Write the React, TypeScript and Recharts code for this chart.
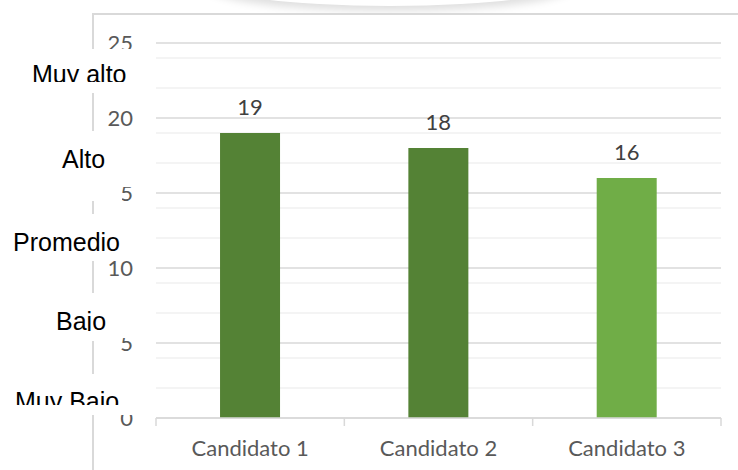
import React from 'react';
import { BarChart, Bar, XAxis, YAxis, CartesianGrid, Cell, LabelList } from 'recharts';

const candidates = ['Candidato 1', 'Candidato 2', 'Candidato 3'];
const scores = [19, 18, 16];
const yTicks = [0, 5, 10, 15, 20, 25];
const minorTicks = [1, 2, 3, 4, 6, 7, 8, 9, 11, 12, 13, 14, 16, 17, 18, 19, 21, 22, 23, 24];
const levels = ['Muy alto', 'Alto', 'Promedio', 'Bajo', 'Muy Bajo'];

const BAR_COLORS = ['#548235', '#548235', '#70AD47'];
const FONT = 'Lato, "Open Sans", sans-serif';

const data = candidates.map((name, i) => ({ name, value: scores[i] }));

// where each level label sits on the left, with the white box it was pasted in
const LEVEL_BOXES = [
  { tx: 32, ty: 83, clip: 82, boxes: [[0, 49, 150, 44]] },
  { tx: 62, ty: 168, clip: 200, boxes: [[0, 131, 150, 56], [0, 187, 122, 14]] },
  { tx: 13, ty: 251, clip: 261, boxes: [[0, 214, 150, 47]] },
  { tx: 56, ty: 330, clip: 331, boxes: [[0, 293, 150, 45], [0, 338, 122, 3]] },
  { tx: 15, ty: 410, clip: 405, boxes: [[0, 374, 150, 41]] },
];

const CategoryTick = (props: any) => {
  const { x, y, payload, index, visibleTicksCount } = props;
  const half = payload && payload.offset ? payload.offset : 94;
  const last = index === (visibleTicksCount ?? candidates.length) - 1;
  return (
    <g>
      <line x1={x - half} x2={x - half} y1={y} y2={y + 8} stroke="#d9d9d9" strokeWidth={1.5} />
      {last && <line x1={x + half} x2={x + half} y1={y} y2={y + 8} stroke="#d9d9d9" strokeWidth={1.5} />}
      <text x={x} y={y + 38} textAnchor="middle" fill="#595959" fontSize={22} fontFamily={FONT}>
        {payload.value}
      </text>
    </g>
  );
};

export default function App() {
  return (
    <div style={{ position: 'absolute', left: 0, top: 0, width: 738, height: 470, background: '#fff', overflow: 'hidden' }}>
      {/* faint shadow of something above the chart */}
      <div
        style={{
          position: 'absolute', left: 205, top: -44, width: 370, height: 50,
          borderRadius: '50%', background: '#fff', boxShadow: '0 5px 9px rgba(0,0,0,0.13)',
        }}
      />
      <div
        style={{
          position: 'absolute', left: 92, top: 13, width: 660, height: 470,
          borderTop: '2px solid #d9d9d9', borderLeft: '2px solid #d9d9d9', background: '#fff',
        }}
      />
      <div style={{ position: 'absolute', left: 0, top: 0 }}>
        <BarChart
          width={738}
          height={470}
          data={data}
          margin={{ top: 43, right: 17, bottom: 0, left: 0 }}
          barCategoryGap="34%"
        >
          <CartesianGrid vertical={false} horizontalValues={minorTicks} stroke="#f0f0f0" strokeWidth={1.5} />
          <CartesianGrid vertical={false} horizontalValues={yTicks} stroke="#d9d9d9" strokeWidth={1.5} />
          <XAxis
            dataKey="name"
            height={52}
            axisLine={{ stroke: '#d9d9d9', strokeWidth: 1.5 }}
            tickLine={false}
            tickSize={0}
            tickMargin={0}
            tick={<CategoryTick />}
            interval={0}
          />
          <YAxis
            width={156}
            domain={[0, 25]}
            ticks={yTicks}
            axisLine={false}
            tickLine={false}
            tickSize={0}
            tickMargin={23}
            tick={{ fill: '#595959', fontSize: 22, fontFamily: FONT }}
          />
          <Bar dataKey="value" isAnimationActive={false}>
            {data.map((d, i) => (
              <Cell key={d.name} fill={BAR_COLORS[i]} />
            ))}
            <LabelList dataKey="value" position="top" offset={18} fill="#404040" fontSize={22} fontFamily={FONT} />
          </Bar>
        </BarChart>
      </div>
      <svg width={738} height={470} style={{ position: 'absolute', left: 0, top: 0, pointerEvents: 'none' }}>
        <defs>
          {LEVEL_BOXES.map((b, i) => (
            <clipPath id={`lvl-${i}`} key={i}>
              <rect x={0} y={0} width={160} height={b.clip} />
            </clipPath>
          ))}
        </defs>
        {levels.map((label, i) => {
          const b = LEVEL_BOXES[i];
          return (
            <g key={label}>
              {b.boxes.map(([x, y, w, h], j) => (
                <rect key={j} x={x} y={y} width={w} height={h} fill="#fff" />
              ))}
              <text
                x={b.tx}
                y={b.ty}
                fontSize={25}
                fontFamily='"Liberation Sans", Arial, sans-serif'
                fill="#000"
                clipPath={`url(#lvl-${i})`}
              >
                {label}
              </text>
            </g>
          );
        })}
      </svg>
    </div>
  );
}
